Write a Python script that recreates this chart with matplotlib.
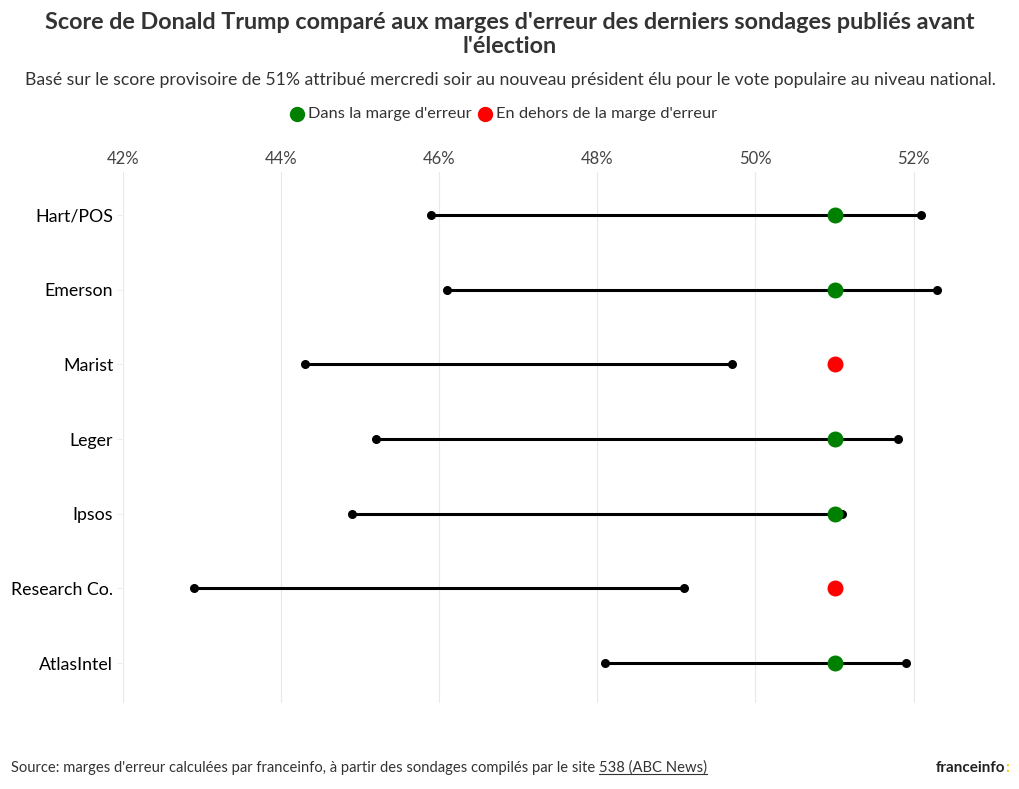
import matplotlib
matplotlib.use("Agg")
import matplotlib.pyplot as plt
from matplotlib.lines import Line2D

plt.rcParams['font.family'] = ['Lato', 'DejaVu Sans']

# données
instituts = ["Hart/POS", "Emerson", "Marist", "Leger", "Ipsos", "Research Co.", "AtlasIntel"]
marge_basse = [45.9, 46.1, 44.3, 45.2, 44.9, 42.9, 48.1]
marge_haute = [52.1, 52.3, 49.7, 51.8, 51.1, 49.1, 51.9]
score_trump = 51.0
ticks = [42, 44, 46, 48, 50, 52]
tick_labels = ["42%", "44%", "46%", "48%", "50%", "52%"]

VERT = "#008000"
ROUGE = "#ff0000"
TXT = "#333333"

fig = plt.figure(figsize=(10.2, 7.89), dpi=100)
ax = fig.add_axes([123 / 1020, 86 / 789, 838 / 1020, 531 / 789])

for i, (lo, hi) in enumerate(zip(marge_basse, marge_haute)):
    ax.plot([lo, hi], [i, i], color="black", lw=2.2, zorder=2)
    ax.scatter([lo, hi], [i, i], s=30, color="black", zorder=3)
    dedans = lo <= score_trump <= hi
    ax.scatter([score_trump], [i], s=110, color=VERT if dedans else ROUGE, zorder=4)

ax.set_xlim(42, 52.6)
ax.set_ylim(len(instituts) - 1 + 0.535, -0.576)
ax.set_xticks(ticks)
ax.set_xticklabels(tick_labels)
ax.set_yticks(range(len(instituts)))
ax.set_yticklabels(instituts)
ax.xaxis.tick_top()
ax.tick_params(axis="x", length=0, pad=3.5, labelsize=12, labelcolor="#444444")
ax.tick_params(axis="y", length=4, color="#eeeeee", pad=3, labelsize=12.8, labelcolor="black")
ax.grid(axis="x", color="#e8e8e8", lw=0.8)
ax.set_axisbelow(True)
for s in ax.spines.values():
    s.set_visible(False)

# titres
fig.text(0.5, 1 - 12 / 789, "Score de Donald Trump comparé aux marges d'erreur des derniers sondages publiés avant\nl'élection",
         ha="center", va="top", fontsize=16.8, fontweight="bold", color=TXT, linespacing=1.2)
fig.text(0.5, 1 - 80 / 789, "Basé sur le score provisoire de 51% attribué mercredi soir au nouveau président élu pour le vote populaire au niveau national.",
         ha="center", va="center", fontsize=12.7, color=TXT)

# légende
ly = 1 - 114 / 789
fig.add_artist(Line2D([297 / 1020], [ly], marker="o", ms=10, color=VERT, lw=0))
fig.text(308 / 1020, ly, "Dans la marge d'erreur", ha="left", va="center", fontsize=11.8, color=TXT)
fig.add_artist(Line2D([485 / 1020], [ly], marker="o", ms=10, color=ROUGE, lw=0))
fig.text(496 / 1020, ly, "En dehors de la marge d'erreur", ha="left", va="center", fontsize=11.8, color=TXT)

# source
sy = 1 - 768 / 789
t1 = fig.text(11 / 1020, sy, "Source: marges d'erreur calculées par franceinfo, à partir des sondages compilés par le site ",
              ha="left", va="center", fontsize=10.6, color=TXT)
fig.canvas.draw()
r = fig.canvas.get_renderer()
bb = t1.get_window_extent(r)
x2 = bb.x1 / fig.bbox.width
t2 = fig.text(x2, sy, "538 (ABC News)", ha="left", va="center", fontsize=10.6, color=TXT)
bb2 = t2.get_window_extent(r)
uy = (bb2.y0 + 1) / fig.bbox.height
fig.add_artist(Line2D([bb2.x0 / fig.bbox.width, bb2.x1 / fig.bbox.width], [uy, uy], color=TXT, lw=0.8))

fig.text(1005 / 1020, sy, "franceinfo", ha="right", va="center", fontsize=11, fontweight="bold", color="#222222")
fig.text(1005 / 1020, sy, ":", ha="left", va="center", fontsize=11, fontweight="bold", color="#f5c400")

fig.savefig("out.png", dpi=100)
